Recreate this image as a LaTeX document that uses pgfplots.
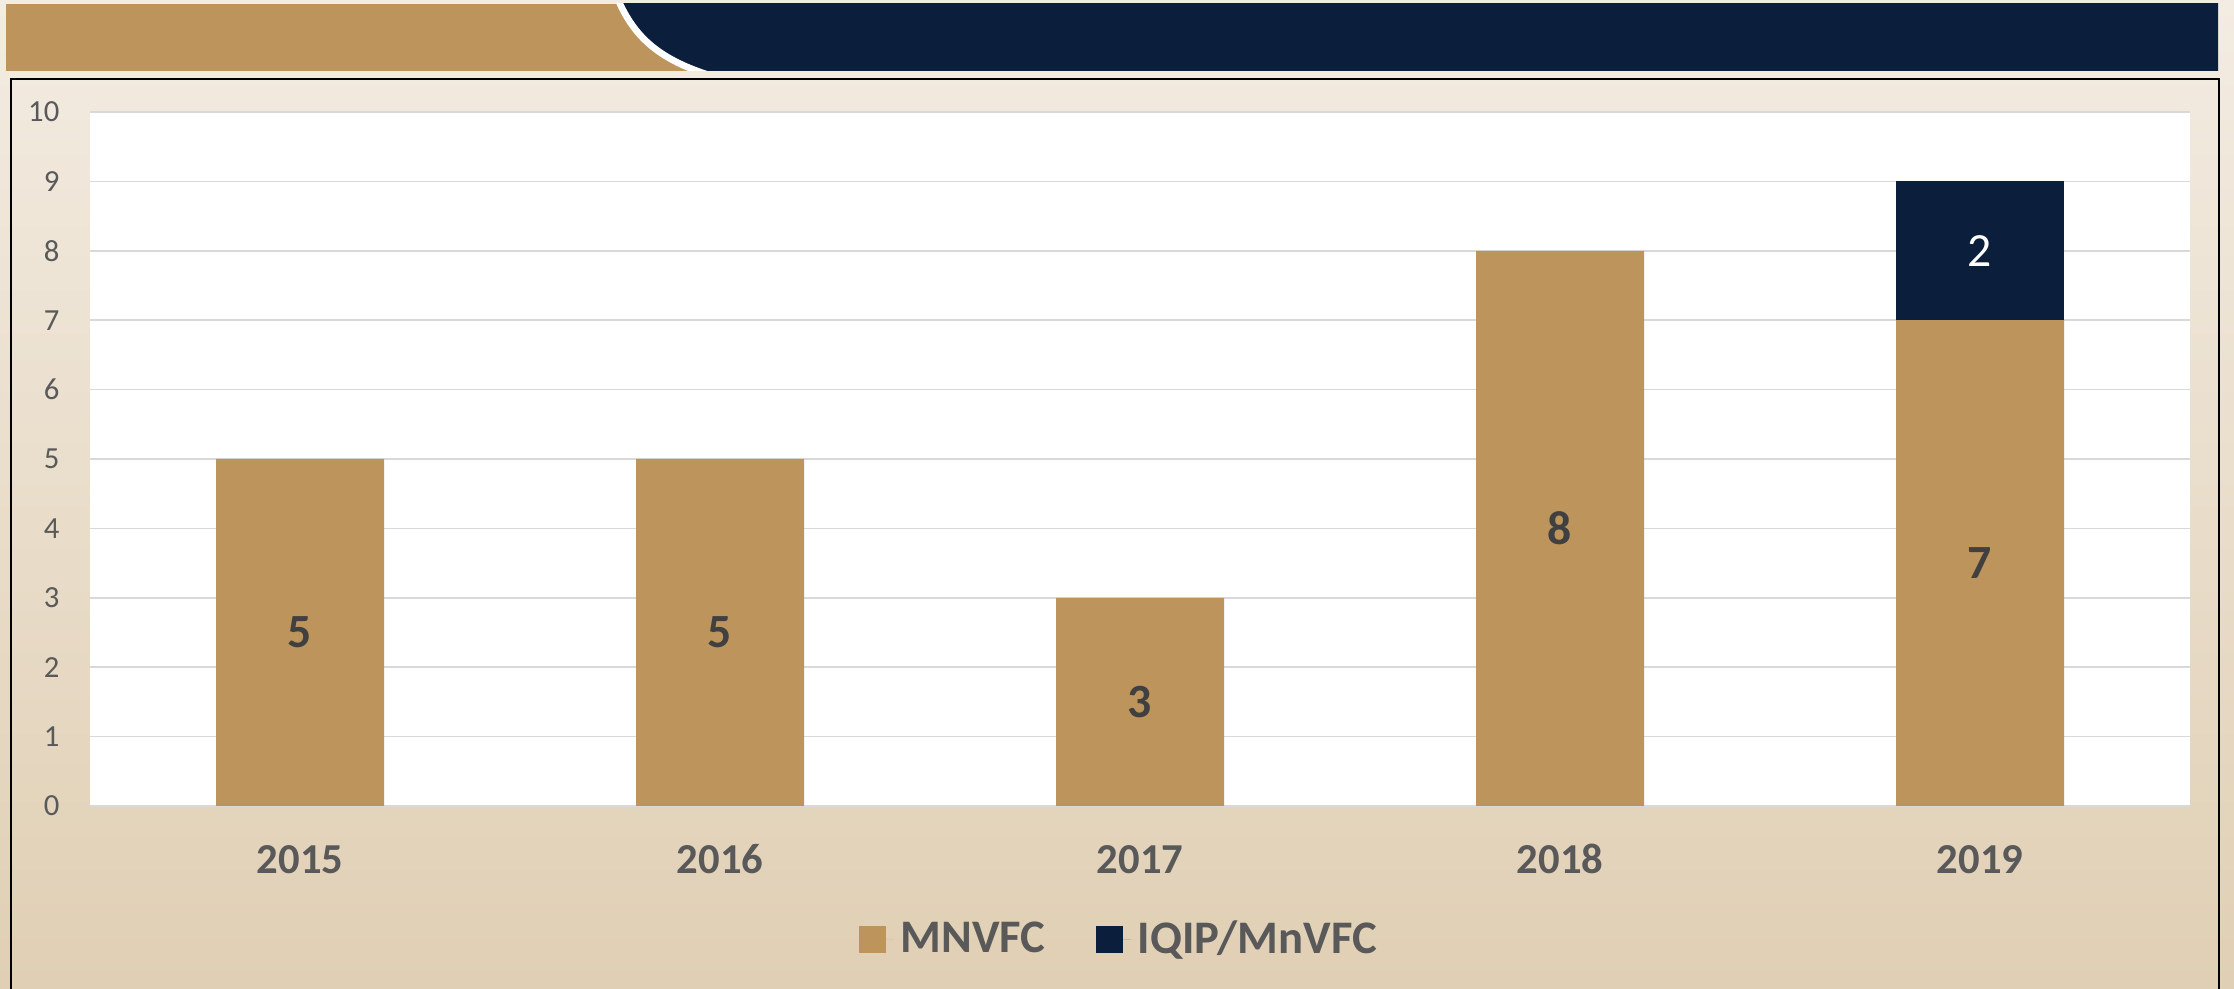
\documentclass[border=0pt]{standalone}
\usepackage{pgfplots}
\pgfplotsset{compat=1.18}
\usepackage{fontspec}
\setmainfont{Carlito}
\definecolor{mytan}{HTML}{BD955C}
\definecolor{navy}{HTML}{0B1F3D}
\definecolor{bgtop}{HTML}{F3ECE2}
\definecolor{bgbot}{HTML}{E0CFB4}
\definecolor{txtgray}{HTML}{595959}
\definecolor{lbl}{HTML}{404040}
\definecolor{gridc}{HTML}{D9D9D9}
\begin{document}
\begin{tikzpicture}
\useasboundingbox (0,0) rectangle (670.2pt,296.7pt);
\shade[top color=bgtop, bottom color=bgbot] (0,0) rectangle (670.2pt,296.7pt);
\begin{scope}[x=0.3pt,y=-0.3pt,yshift=296.7pt]
  \fill[mytan] (6,4) rectangle (760,71);
  \begin{scope}
    \clip (6,4) rectangle (2218,71);
    \fill[navy] (618,-2) -- (620,4) .. controls (636,38) and (660,60) .. (712,76) -- (2218,76) -- (2218,-2) -- cycle;
    \draw[white, line width=2pt] (618,-2) -- (620,4) .. controls (636,38) and (660,60) .. (712,76);
  \end{scope}
  \draw[black, line width=0.6pt] (11,1000) -- (11,79) -- (2219,79) -- (2219,1000);
\end{scope}
\begin{axis}[
  at={(27pt,54.9pt)}, anchor=south west,
  scale only axis, width=630pt, height=208.2pt,
  xmin=-0.5, xmax=4.5, ymin=0, ymax=10,
  ybar stacked, bar width=50.4pt,
  axis background/.style={fill=white},
  axis line style={draw=none},
  ymajorgrids, grid style={gridc, line width=0.5pt},
  major tick length=0pt,
  xtick={0,1,2,3,4}, xticklabels={2015,2016,2017,2018,2019},
  ytick={0,1,...,10},
  /pgf/number format/assume math mode=true,
  xticklabel style={font=\bfseries\fontsize{12.8}{14}\selectfont, text=txtgray, anchor=base, inner sep=0pt, yshift=-20.4pt},
  yticklabel style={font=\fontsize{9.2}{11}\selectfont, text=txtgray, anchor=east, inner sep=0pt, xshift=-9pt},
  legend style={at={(0.491,-0.193)}, anchor=center, draw=none, fill=none, legend columns=2,
    font=\bfseries\fontsize{14}{16}\selectfont, text=txtgray,
    /tikz/every even column/.append style={column sep=13pt}},
  legend image code/.code={\fill[#1] (0pt,-4.05pt) rectangle (8.1pt,4.05pt); \path (8.1pt,0pt) -- (10.6pt,0pt);},
]
\addplot[fill=mytan, draw=none] coordinates {(0,5) (1,5) (2,3) (3,8) (4,7)};
\addplot[fill=navy, draw=none] coordinates {(0,0) (1,0) (2,0) (3,0) (4,2)};
\legend{MNVFC, IQIP/MnVFC}
\end{axis}
\begin{axis}[
  at={(27pt,54.9pt)}, anchor=south west,
  scale only axis, width=630pt, height=208.2pt,
  xmin=-0.5, xmax=4.5, ymin=0, ymax=10,
  hide axis,
  point meta=explicit symbolic,
]
\addplot[draw=none, mark=none, nodes near coords,
  nodes near coords style={anchor=center, inner sep=0pt, font=\bfseries\fontsize{14.3}{16}\selectfont, text=lbl}]
  coordinates {(0,2.5)[5] (1,2.5)[5] (2,1.5)[3] (3,4)[8] (4,3.5)[7]};
\addplot[draw=none, mark=none, nodes near coords,
  nodes near coords style={anchor=center, inner sep=0pt, font=\fontsize{14.3}{16}\selectfont, text=white}]
  coordinates {(4,8)[2]};
\end{axis}
\end{tikzpicture}
\end{document}
